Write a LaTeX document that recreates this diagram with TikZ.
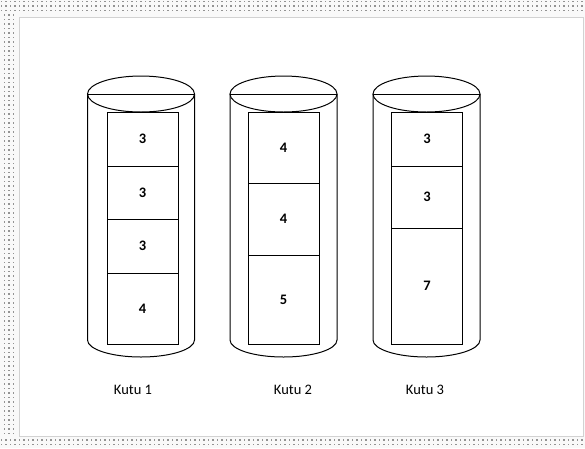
\documentclass[tikz,border=0pt]{standalone}
\usepackage{fontspec}
\setmainfont{Carlito}
\begin{document}
\begin{tikzpicture}[x=1pt,y=-1pt,line width=1pt,
  cell/.style={draw, line width=1pt, minimum width=71pt, inner sep=0pt, font=\bfseries\fontsize{14.5}{16}\selectfont},
  lab/.style={font=\fontsize{14.5}{17}\selectfont},
  dotmark/.style={fill=gray!85}]
\useasboundingbox (0,0) rectangle (585,448);
\fill[gray!5] (0,0) rectangle (585,448);
\fill[white] (19,17) rectangle (583,436);
\draw[gray!35,line width=0.7pt] (19,17) rectangle (583,436);
% dotted frame
\foreach \x in {1.5,6,...,585}{
  \foreach \y in {1.5,6,10.5,440,444.5}{
    \fill[dotmark] (\x-0.55,\y-0.55) rectangle (\x+0.55,\y+0.55);
  }
}
\foreach \y in {15,19.5,...,436}{
  \foreach \x in {4.5,9,13.5}{
    \fill[dotmark] (\x-0.55,\y-0.55) rectangle (\x+0.55,\y+0.55);
  }
}
% cylinders
\foreach \cx in {141,283.5,426.5}{
  \draw (\cx-53.5,94) -- (\cx-53.5,340) arc[start angle=180,end angle=0,x radius=53.5,y radius=17] -- (\cx+53.5,94);
  \draw (\cx,94) ellipse[x radius=53.5,y radius=18];
  \draw (\cx-53.5,94) -- (\cx+53.5,94);
}
% Kutu 1
\node[cell,minimum height=54pt] (a1) at (142.5,139) {3};
\node[cell,minimum height=53pt] (a2) at (142.5,192.5) {3};
\node[cell,minimum height=54pt] (a3) at (142.5,246) {3};
\node[cell,minimum height=71pt] (a4) at (142.5,308.5) {4};
% Kutu 2
\node[cell,minimum height=71pt] (b1) at (283.5,147.5) {4};
\node[cell,minimum height=72pt] (b2) at (283.5,219) {4};
\node[cell,minimum height=89pt] (b3) at (283.5,299.5) {5};
% Kutu 3
\node[cell,minimum height=54pt] (c1) at (427,139) {3};
\node[cell,minimum height=62pt] (c2) at (427,197) {3};
\node[cell,minimum height=116pt] (c3) at (427,286) {7};
% labels
\node[lab] (l1) at (133,390) {Kutu 1};
\node[lab] (l2) at (293,390) {Kutu 2};
\node[lab] (l3) at (425,390) {Kutu 3};
\end{tikzpicture}
\end{document}
